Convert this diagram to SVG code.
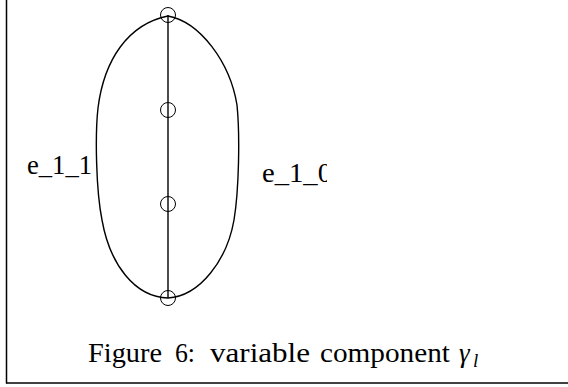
<svg xmlns="http://www.w3.org/2000/svg" width="568" height="387" viewBox="0 0 568 387">
<style>
.t{font-family:"Liberation Serif","Times New Roman",serif;fill:#000}
.e{fill:none;stroke:#000;stroke-width:1.4}
.n{fill:none;stroke:#000;stroke-width:1}
.f{fill:none;stroke:#000;stroke-width:1.5}
</style>
<defs>
<clipPath id="clipR"><rect x="250" y="140" width="77" height="60"/></clipPath>
</defs>
<rect x="0" y="0" width="568" height="387" fill="#fff"/>
<g id="frame">
<line class="f" x1="6.5" y1="0" x2="6.5" y2="383.5"/>
<line class="f" x1="6" y1="383" x2="568" y2="383"/>
</g>
<g id="connectors">
<line class="e" x1="168" y1="15" x2="168" y2="298"/>
<path id="e_1_1" class="e" d="M168,16 C128,24 104,60 98,108 C95,135 96,190 102,220 C110,265 135,297 168,298"/>
<path id="e_1_0" class="e" d="M168,16 C200,22 230,62 237,105 C240,135 239,190 234,220 C227,260 200,296 168,298"/>
</g>
<g id="n1"><circle class="n" cx="168" cy="15" r="7.5"/></g>
<g id="n2"><circle class="n" cx="168" cy="110" r="7.5"/></g>
<g id="n3"><circle class="n" cx="168" cy="204" r="7.5"/></g>
<g id="n4"><circle class="n" cx="168" cy="298" r="7.5"/></g>
<g id="labels">
<text class="t" x="27" y="174" font-size="27" textLength="65" lengthAdjust="spacingAndGlyphs">e_1_1</text>
<text class="t" x="262" y="182" font-size="27" textLength="70" lengthAdjust="spacingAndGlyphs" clip-path="url(#clipR)">e_1_0</text>
</g>
<g id="caption">
<text class="t" x="88" y="362" font-size="27" textLength="74" lengthAdjust="spacingAndGlyphs">Figure</text>
<text class="t" x="175" y="362" font-size="27" textLength="20" lengthAdjust="spacingAndGlyphs">6:</text>
<text class="t" x="210" y="362" font-size="27" textLength="100" lengthAdjust="spacingAndGlyphs">variable</text>
<text class="t" x="320" y="362" font-size="27" textLength="130" lengthAdjust="spacingAndGlyphs">component</text>
<text class="t" x="459" y="362" font-size="27" font-style="italic">γ</text>
<text class="t" x="473" y="367" font-size="19" font-style="italic">l</text>
</g>
</svg>
